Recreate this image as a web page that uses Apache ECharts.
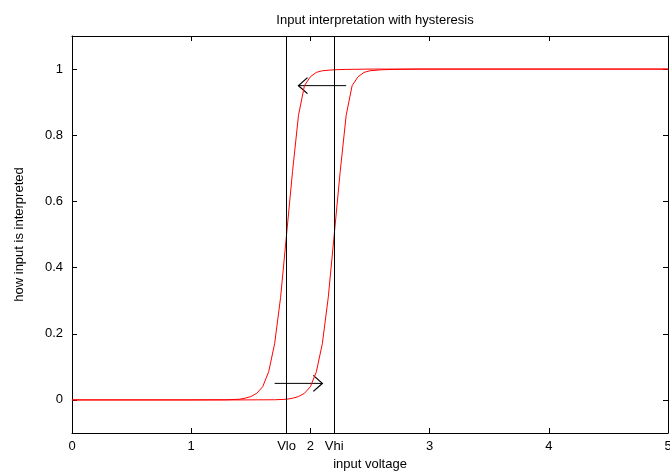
<!DOCTYPE html>
<html>
<head>
<meta charset="utf-8">
<script src="https://cdn.jsdelivr.net/npm/echarts@6/dist/echarts.min.js"></script>
<style>
  html, body { margin: 0; padding: 0; background: #fff; }
  #main { width: 670px; height: 471px; }
</style>
</head>
<body>
<div id="main"></div>
<script>
// tick positions and labels
var xTickValues = [0, 1, 1.8, 2, 2.2, 3, 4, 5];
var xTickLabels = ['0', '1', 'Vlo', '2', 'Vhi', '3', '4', '5'];
var yTickValues = [0, 0.2, 0.4, 0.6, 0.8, 1];
var yTickLabels = ['0', '0.2', '0.4', '0.6', '0.8', '1'];

// threshold lines
var thresholds = [1.8, 2.2];

// falling curve (centred on Vlo)
var lowX = [0, 1.0, 1.3, 1.4, 1.45, 1.5, 1.55, 1.6, 1.65, 1.7, 1.75, 1.8, 1.85, 1.9, 1.95, 2.0, 2.05, 2.1, 2.2, 2.3, 2.5, 5];
var lowY = [0, 0, 0.0005, 0.002, 0.005, 0.01, 0.02, 0.04, 0.085, 0.17, 0.31, 0.5, 0.69, 0.86, 0.95, 0.977, 0.99, 0.995, 0.998, 0.999, 1, 1];

// rising curve (centred on Vhi)
var highX = [0, 1.4, 1.7, 1.8, 1.85, 1.9, 1.95, 2.0, 2.05, 2.1, 2.15, 2.2, 2.25, 2.3, 2.35, 2.4, 2.45, 2.5, 2.6, 2.7, 2.9, 5];
var highY = [0, 0, 0.0005, 0.002, 0.005, 0.01, 0.02, 0.04, 0.085, 0.17, 0.31, 0.5, 0.69, 0.86, 0.95, 0.977, 0.99, 0.995, 0.998, 0.999, 1, 1];

// arrows: [xFrom, y, xTo, y]
var arrows = [
  [2.3, 0.95, 1.9, 0.95],
  [1.7, 0.05, 2.1, 0.05]
];

function zip(xs, ys) {
  return xs.map(function (x, i) { return [x, ys[i]]; });
}

var myChart = echarts.init(document.getElementById('main'));

var font = { fontFamily: 'Liberation Sans, Arial, sans-serif', fontSize: 13, color: '#000' };

var option = {
  animation: false,
  title: {
    text: 'Input interpretation with hysteresis',
    left: 370,
    top: 9,
    textAlign: 'center',
    textStyle: { fontFamily: font.fontFamily, fontSize: 13, fontWeight: 'normal', color: '#000' }
  },
  grid: { left: 72, right: 2, top: 36, bottom: 38, containLabel: false, outerBoundsMode: 'none' },
  xAxis: [{
    type: 'value',
    min: 0,
    max: 5,
    position: 'bottom',
    name: 'input voltage',
    nameLocation: 'middle',
    nameGap: 25,
    nameTextStyle: font,
    axisLine: { show: true, onZero: false, lineStyle: { color: '#000', width: 1 } },
    axisTick: { show: true, inside: true, length: 5, customValues: [0, 1, 2, 3, 4, 5], lineStyle: { color: '#000' } },
    axisLabel: {
      customValues: xTickValues,
      margin: 7,
      fontFamily: font.fontFamily, fontSize: 13, color: '#000',
      formatter: function (v) {
        var i = xTickValues.indexOf(v);
        return i >= 0 ? xTickLabels[i] : '';
      }
    },
    splitLine: { show: false }
  }, {
    type: 'value',
    min: 0,
    max: 5,
    position: 'top',
    axisLine: { show: true, onZero: false, lineStyle: { color: '#000', width: 1 } },
    axisTick: { show: true, inside: true, length: 5, customValues: [0, 1, 2, 3, 4, 5], lineStyle: { color: '#000' } },
    axisLabel: { show: false },
    splitLine: { show: false }
  }],
  yAxis: [{
    type: 'value',
    min: -0.1,
    max: 1.1,
    position: 'left',
    name: 'how input is interpreted',
    nameLocation: 'middle',
    nameGap: 46,
    nameTextStyle: font,
    axisLine: { show: true, onZero: false, lineStyle: { color: '#000', width: 1 } },
    axisTick: { show: true, inside: true, length: 5, customValues: yTickValues, lineStyle: { color: '#000' } },
    axisLabel: {
      customValues: yTickValues,
      margin: 9,
      fontFamily: font.fontFamily, fontSize: 13, color: '#000',
      formatter: function (v) {
        var i = yTickValues.indexOf(v);
        return i >= 0 ? yTickLabels[i] : '';
      }
    },
    splitLine: { show: false }
  }, {
    type: 'value',
    min: -0.1,
    max: 1.1,
    position: 'right',
    axisLine: { show: true, onZero: false, lineStyle: { color: '#000', width: 1 } },
    axisTick: { show: true, inside: true, length: 5, customValues: yTickValues, lineStyle: { color: '#000' } },
    axisLabel: { show: false },
    splitLine: { show: false }
  }],
  series: [{
    type: 'line',
    data: zip(lowX, lowY),
    showSymbol: false,
    symbol: 'none',
    lineStyle: { color: '#ff0000', width: 1 },
    markLine: {
      silent: true,
      symbol: 'none',
      label: { show: false },
      lineStyle: { color: '#000', width: 1, type: 'solid' },
      data: thresholds.map(function (t) { return { xAxis: t }; })
    }
  }, {
    type: 'line',
    data: zip(highX, highY),
    showSymbol: false,
    symbol: 'none',
    lineStyle: { color: '#ff0000', width: 1 }
  }, {
    type: 'custom',
    data: arrows,
    encode: { x: [0, 2], y: [1, 3] },
    renderItem: function (params, api) {
      var p1 = api.coord([api.value(0), api.value(1)]);
      var p2 = api.coord([api.value(2), api.value(3)]);
      var dir = p2[0] > p1[0] ? 1 : -1;
      return {
        type: 'group',
        children: [{
          type: 'line',
          shape: { x1: p1[0], y1: p1[1], x2: p2[0], y2: p2[1] },
          style: { stroke: '#000', lineWidth: 1 }
        }, {
          type: 'polyline',
          shape: { points: [[p2[0] - dir * 9, p2[1] - 8], [p2[0], p2[1]], [p2[0] - dir * 9, p2[1] + 8]] },
          style: { stroke: '#000', fill: null, lineWidth: 1.3 }
        }]
      };
    }
  }]
};

myChart.setOption(option);
</script>
</body>
</html>
